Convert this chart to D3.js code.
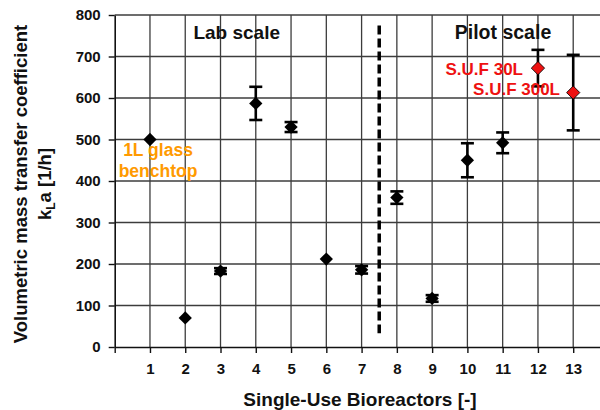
<!DOCTYPE html>
<html lang="en">
<head>
  <meta charset="utf-8">
  <title>kLa of single-use bioreactors</title>
  <script src="https://d3js.org/d3.v7.min.js"></script>
  <style>
    body { margin: 0; background: #fff; }
    text { font-family: "Liberation Sans", Arial, sans-serif; font-weight: bold; }
  </style>
</head>
<body>
  <svg id="chart" width="600" height="410"></svg>

  <script>
  // data
  const reactors = [1, 2, 3, 4, 5, 6, 7, 8, 9, 10, 11, 12, 13];
  const klaValues = [500, 70, 183, 587, 530, 212, 186, 360, 117, 450, 492, 672, 613];
  const klaErrors = [0, 0, 7, 40, 12, 0, 9, 15, 8, 41, 25, 44, 91];
  const highlighted = [12, 13];  // S.U.F reactors, drawn red
  const xTicks = [0, 1, 2, 3, 4, 5, 6, 7, 8, 9, 10, 11, 12, 13];
  const yTicks = [0, 100, 200, 300, 400, 500, 600, 700, 800];
  const dividerAt = 7.5;
  const dividerRange = [33, 775];

  const svg = d3.select("#chart");
  const plotLeft = 114.7, plotTop = 15, plotBottom = 347;
  const step = 35.27;

  const x = d3.scaleLinear().domain([0, 14]).range([plotLeft, plotLeft + 14 * step]);
  const y = d3.scaleLinear().domain([0, 800]).range([plotBottom, plotTop]);

  // grid
  const grid = svg.append("g").attr("stroke", "#3c3c3c").attr("stroke-width", 1.3);
  grid.selectAll("line.h")
    .data(yTicks.filter(d => d > 0))
    .enter().append("line")
    .attr("x1", x(0)).attr("x2", x(14))
    .attr("y1", d => y(d)).attr("y2", d => y(d));
  grid.selectAll("line.v")
    .data(xTicks.filter(d => d > 0).concat([14]))
    .enter().append("line")
    .attr("x1", d => x(d)).attr("x2", d => x(d))
    .attr("y1", y(0)).attr("y2", y(800));

  // axes
  const yAxis = svg.append("g")
    .attr("transform", `translate(${x(0)},0)`)
    .call(d3.axisLeft(y).tickValues(yTicks).tickSize(6).tickSizeOuter(0).tickPadding(8));
  const xAxis = svg.append("g")
    .attr("transform", `translate(0,${y(0)})`)
    .call(d3.axisBottom(x).tickValues(xTicks).tickSize(6).tickSizeOuter(0).tickPadding(10)
      .tickFormat(d => d === 0 ? "" : d));

  [yAxis, xAxis].forEach(a => {
    a.select(".domain").attr("stroke", "#111").attr("stroke-width", 1.6);
    a.selectAll(".tick line").attr("stroke", "#111").attr("stroke-width", 1.4);
    a.selectAll(".tick text")
      .attr("fill", "#111")
      .style("font-family", '"Liberation Sans", Arial, sans-serif')
      .style("font-weight", "bold")
      .style("font-size", "15px");
  });

  // divider between lab and pilot scale
  svg.append("line")
    .attr("x1", x(dividerAt)).attr("x2", x(dividerAt))
    .attr("y1", y(dividerRange[1])).attr("y2", y(dividerRange[0]))
    .attr("stroke", "#000")
    .attr("stroke-width", 3.5)
    .attr("stroke-dasharray", "9,4");

  const points = reactors.map((r, i) => ({ r: r, v: klaValues[i], e: klaErrors[i] }));

  // error bars
  const bars = svg.append("g").attr("stroke", "#000").attr("stroke-width", 2.6);
  points.filter(d => d.e > 0).forEach(d => {
    bars.append("line")
      .attr("x1", x(d.r)).attr("x2", x(d.r))
      .attr("y1", y(d.v - d.e)).attr("y2", y(d.v + d.e));
    [d.v - d.e, d.v + d.e].forEach(v => {
      bars.append("line")
        .attr("x1", x(d.r) - 6.5).attr("x2", x(d.r) + 6.5)
        .attr("y1", y(v)).attr("y2", y(v));
    });
  });

  // diamonds
  const diamond = d3.symbol().type(d3.symbolSquare).size(88);
  svg.append("g").selectAll("path")
    .data(points)
    .enter().append("path")
    .attr("d", diamond)
    .attr("transform", d => `translate(${x(d.r)},${y(d.v)}) rotate(45)`)
    .attr("fill", d => highlighted.includes(d.r) ? "#ee1111" : "#000")
    .attr("stroke", "#000")
    .attr("stroke-width", d => highlighted.includes(d.r) ? 0.8 : 0);

  // annotations
  svg.append("text")
    .attr("x", 236.7).attr("y", 39)
    .attr("text-anchor", "middle")
    .attr("font-size", "19px")
    .attr("fill", "#111")
    .text("Lab scale");

  svg.append("text")
    .attr("x", 503).attr("y", 39)
    .attr("text-anchor", "middle")
    .attr("font-size", "19.5px")
    .attr("fill", "#111")
    .text("Pilot scale");

  const glass = svg.append("text")
    .attr("text-anchor", "middle")
    .attr("font-size", "17.5px")
    .attr("fill", "#ff9a00");
  glass.append("tspan").attr("x", 158).attr("y", 156).text("1L glass");
  glass.append("tspan").attr("x", 158).attr("y", 177).text("benchtop");

  svg.append("text")
    .attr("x", 523).attr("y", 75)
    .attr("text-anchor", "end")
    .attr("font-size", "17px")
    .attr("fill", "#ee1111")
    .text("S.U.F 30L");

  svg.append("text")
    .attr("x", 560).attr("y", 95)
    .attr("text-anchor", "end")
    .attr("font-size", "17px")
    .attr("fill", "#ee1111")
    .text("S.U.F 300L");

  // axis titles
  svg.append("text")
    .attr("x", 360).attr("y", 406)
    .attr("text-anchor", "middle")
    .attr("font-size", "19px")
    .attr("fill", "#111")
    .text("Single-Use Bioreactors [-]");

  const yTitle = svg.append("text")
    .attr("transform", "translate(0,184) rotate(-90)")
    .attr("text-anchor", "middle")
    .attr("font-size", "18.5px")
    .attr("fill", "#111");
  yTitle.append("tspan").attr("x", 0).attr("y", 27).text("Volumetric mass transfer coefficient");
  const k = yTitle.append("tspan").attr("x", 0).attr("y", 51);
  k.append("tspan").text("k");
  k.append("tspan").attr("font-size", "12px").attr("dy", 4).text("L");
  k.append("tspan").attr("dy", -4).text("a [1/h]");
  </script>
</body>
</html>
